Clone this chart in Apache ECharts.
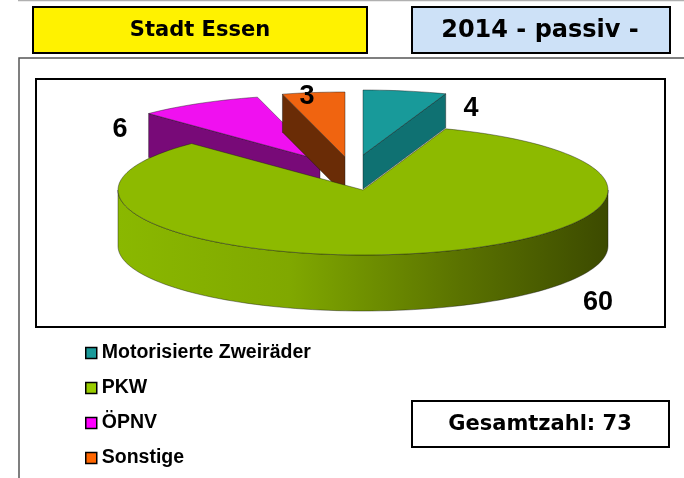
<!DOCTYPE html>
<html>
<head>
<meta charset="utf-8">
<script src="https://cdn.jsdelivr.net/npm/echarts@6/dist/echarts.min.js"></script>
<style>
  html, body { margin: 0; padding: 0; background: #fff; }
  #main { width: 684px; height: 478px; }
</style>
</head>
<body>
<div id="main"></div>
<script>
// data
const categories = ['Motorisierte Zweiräder', 'PKW', 'ÖPNV', 'Sonstige'];
const values = [4, 60, 6, 3];
const cityTitle = 'Stadt Essen';
const yearTitle = '2014 - passiv -';
const totalLabel = 'Gesamtzahl:';

// styles
const legendColors = ['#1a9a9a', '#99cc00', '#ff00ff', '#ff6600'];
const topColors = ['#189a9a', '#8dba00', '#f010f0', '#f06410'];
const sideColors = ['#0f7172', '#6f9000', '#780a78', '#6a2c06'];
const cx = 363, cy = 190, rx = 245, ry = 65;
const explode = [[0, -35], [0, 0], [-43, -30], [-18, -33]];
const depth = [34, 56, 44, 38];
const labelPos = [[471, 109], [598, 303], [120, 130], [307, 97]];
const font = 'Liberation Sans, Arial, sans-serif';
const headFont = 'DejaVu Sans, Verdana, sans-serif';

const sum = values.reduce((a, b) => a + b, 0);
const startAngles = [];
let acc = 0;
values.forEach(v => { startAngles.push(acc / sum * 360); acc += v; });

function pt(i, deg, r, dy) {
    const a = deg * Math.PI / 180;
    return [cx + explode[i][0] + rx * r * Math.sin(a),
            cy + explode[i][1] - ry * r * Math.cos(a) + dy];
}
function arc(i, a0, a1, dy) {
    const pts = [];
    const n = Math.max(2, Math.ceil((a1 - a0) / 2));
    for (let k = 0; k <= n; k++) pts.push(pt(i, a0 + (a1 - a0) * k / n, 1, dy));
    return pts;
}

const edge = { stroke: 'rgba(20,20,20,0.6)', lineWidth: 0.7, lineJoin: 'round' };

function renderSlice(i) {
    return function (params, api) {
        const v = api.value(0);
        const a0 = startAngles[i], a1 = a0 + v / sum * 360;
        const d = depth[i];
        const kids = [];
        const sideStyle = Object.assign({ fill: sideColors[i] }, edge);
        // radial faces
        if (Math.sin(a0 * Math.PI / 180) < -0.01) {
            kids.push({ type: 'polygon', shape: { points: [pt(i, 0, 0, 0), pt(i, a0, 1, 0), pt(i, a0, 1, d), pt(i, 0, 0, d)] }, style: sideStyle });
        }
        if (Math.sin(a1 * Math.PI / 180) > 0.01) {
            kids.push({ type: 'polygon', shape: { points: [pt(i, 0, 0, 0), pt(i, a1, 1, 0), pt(i, a1, 1, d), pt(i, 0, 0, d)] }, style: sideStyle });
        }
        // outer wall (front half only)
        const s0 = Math.max(a0, 90), s1 = Math.min(a1, 270);
        if (s1 > s0) {
            const pts = arc(i, s0, s1, 0).concat(arc(i, s0, s1, d).reverse());
            kids.push({
                type: 'polygon', shape: { points: pts },
                style: Object.assign({
                    fill: new echarts.graphic.LinearGradient(0, 0, 1, 0, [
                        { offset: 0, color: '#8ab800' },
                        { offset: 0.35, color: '#80a800' },
                        { offset: 0.7, color: '#5a7200' },
                        { offset: 1, color: '#3c4a00' }
                    ])
                }, edge)
            });
        }
        // top face
        kids.push({
            type: 'polygon',
            shape: { points: [pt(i, 0, 0, 0)].concat(arc(i, a0, a1, 0)) },
            style: Object.assign({ fill: topColors[i] }, edge)
        });
        kids.push({
            type: 'text', z2: 10,
            style: {
                x: labelPos[i][0], y: labelPos[i][1], text: String(v),
                fontFamily: font, fontWeight: 'bold', fontSize: 27, fill: '#000',
                align: 'center', verticalAlign: 'middle'
            }
        });
        return { type: 'group', children: kids };
    };
}

const chart = echarts.init(document.getElementById('main'));
const series = categories.map((name, i) => ({
    name: name,
    type: 'custom',
    coordinateSystem: 'none',
    z: i === 1 ? 3 : 2,
    silent: true,
    itemStyle: { color: legendColors[i] },
    renderItem: renderSlice(i),
    data: [[values[i]]]
}));

const option = {
    animation: false,
    legend: {
        data: categories,
        orient: 'vertical',
        left: 80, top: 338,
        itemWidth: 11, itemHeight: 11, itemGap: 15,
        icon: 'rect',
        selectedMode: false,
        itemStyle: { borderColor: '#000', borderWidth: 1.5 },
        textStyle: { fontFamily: font, fontWeight: 'bold', fontSize: 19.5, color: '#000', lineHeight: 20 }
    },
    graphic: [
        { type: 'line', shape: { x1: 18, y1: 0.5, x2: 684, y2: 0.5 }, style: { stroke: '#b0b0b0', lineWidth: 1.5 } },
        {
            type: 'rect', shape: { x: 33, y: 7, width: 334, height: 46 },
            style: { fill: '#fff200', stroke: '#000', lineWidth: 2 }
        },
        {
            type: 'text', style: { x: 200, y: 31, text: cityTitle, fontFamily: headFont, fontWeight: 'bold', fontSize: 21, fill: '#000', align: 'center', verticalAlign: 'middle' }
        },
        {
            type: 'rect', shape: { x: 412, y: 7, width: 258, height: 46 },
            style: { fill: '#cde1f7', stroke: '#000', lineWidth: 2 }
        },
        {
            type: 'text', style: { x: 540, y: 31, text: yearTitle, fontFamily: headFont, fontWeight: 'bold', fontSize: 24, fill: '#000', align: 'center', verticalAlign: 'middle' }
        },
        { type: 'polyline', shape: { points: [[19, 478], [19, 58], [684, 58]] }, style: { stroke: '#555', lineWidth: 1.5, fill: null } },
        { type: 'rect', shape: { x: 36, y: 79, width: 629, height: 248 }, style: { fill: null, stroke: '#000', lineWidth: 2 } },
        {
            type: 'rect', shape: { x: 412, y: 401, width: 257, height: 46 },
            style: { fill: '#fff', stroke: '#000', lineWidth: 2 }
        },
        {
            type: 'text', style: { x: 540, y: 425, text: totalLabel + ' ' + sum, fontFamily: headFont, fontWeight: 'bold', fontSize: 21, fill: '#000', align: 'center', verticalAlign: 'middle' }
        }
    ],
    series: series
};
chart.setOption(option);
</script>
</body>
</html>
